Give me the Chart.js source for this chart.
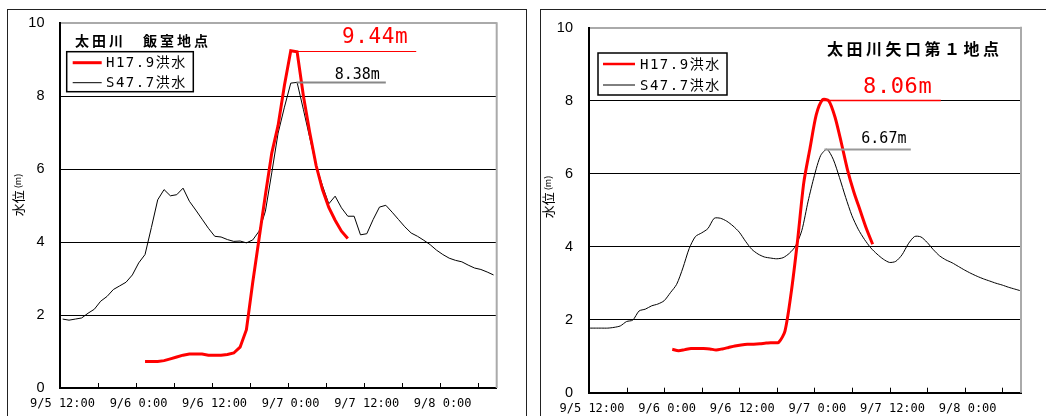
<!DOCTYPE html>
<html>
<head>
<meta charset="utf-8">
<script src="https://cdn.jsdelivr.net/npm/chart.js@4.4.1/dist/chart.umd.min.js"></script>
<style>
  html, body { margin: 0; padding: 0; background: #fff; width: 1046px; height: 416px; overflow: hidden; position: relative; }
  .frame { position: absolute; top: 9px; height: 430px; border: 1.5px solid #222; box-sizing: border-box; }
  #frameL { left: 7px; width: 520px; }
  #frameR { left: 540px; width: 520px; }
  canvas { position: absolute; top: 10px; }
  #chartL { left: 8px; }
  #chartR { left: 541px; }
</style>
</head>
<body>
<div class="frame" id="frameL"></div>
<div class="frame" id="frameR"></div>
<canvas id="chartL" width="515" height="406"></canvas>
<canvas id="chartR" width="505" height="406"></canvas>
<script>
// hours counted from 9/5 12:00
const LABEL_HOURS = [0, 12, 24, 36, 48, 60]
const HOUR_LABELS = ['9/5 12:00', '9/6 0:00', '9/6 12:00', '9/7 0:00', '9/7 12:00', '9/8 0:00']
const TICK_HOURS  = [6, 12, 18, 24, 30, 36, 42, 48, 54, 60, 66]

const SERIES_NAMES = ['H17.9洪水', 'S47.7洪水']

// 太田川 飯室地点 (hourly, water level m)
const IIMURO_H17_START = 13.5
const IIMURO_H17 = [
  0.73, 0.73, 0.73, 0.75, 0.80, 0.85, 0.90, 0.93, 0.93, 0.93, 0.90, 0.90, 0.90, 0.92, 0.96,
  1.12, 1.60, 2.90, 4.10, 5.30, 6.44, 7.20, 8.30, 9.25, 9.22, 8.00, 7.00, 6.10, 5.44, 4.95,
  4.60, 4.30, 4.10,
]
const IIMURO_S47_START = 0.5
const IIMURO_S47 = [
  1.89, 1.86, 1.89, 1.92, 2.05, 2.16, 2.38, 2.51, 2.70, 2.80, 2.90, 3.10, 3.43, 3.66, 4.40,
  5.16, 5.44, 5.27, 5.30, 5.48, 5.12, 4.88, 4.63, 4.38, 4.16, 4.14, 4.07, 4.02, 4.03, 3.98,
  4.06, 4.30, 4.85, 5.90, 6.99, 7.70, 8.36, 8.38, 7.63, 6.86, 6.10, 5.55, 5.05, 5.26, 4.94,
  4.71, 4.71, 4.20, 4.23, 4.62, 4.96, 5.01, 4.82, 4.62, 4.42, 4.25, 4.16, 4.05, 3.93, 3.78,
  3.66, 3.56, 3.50, 3.46, 3.37, 3.29, 3.25, 3.18, 3.10,
]
const IIMURO_PEAK_VALUES = [9.25, 8.39]
const IIMURO_PEAK_TEXT   = ['9.44m', '8.38m']

// 太田川矢口第１地点
const YAGUCHI_H17_START = 13.3
const YAGUCHI_H17 = [
  1.19, 1.15, 1.18, 1.21, 1.21, 1.21, 1.20, 1.17, 1.20, 1.24, 1.28, 1.31, 1.33, 1.33, 1.34,
  1.36, 1.37, 1.38, 1.69, 2.75, 4.15, 5.75, 6.70, 7.62, 8.03, 8.00, 7.55, 6.85, 6.10, 5.50,
  5.00, 4.50, 4.07,
]
const YAGUCHI_S47_START = 0
const YAGUCHI_S47 = [
  1.77, 1.77, 1.77, 1.77, 1.79, 1.83, 1.95, 1.99, 2.24, 2.29, 2.38, 2.43, 2.52, 2.74, 2.97,
  3.42, 3.95, 4.28, 4.38, 4.50, 4.78, 4.78, 4.70, 4.57, 4.40, 4.15, 3.93, 3.80, 3.72, 3.69,
  3.67, 3.70, 3.82, 4.02, 4.45, 5.25, 5.95, 6.50, 6.67, 6.40, 5.90, 5.35, 4.85, 4.48, 4.20,
  3.97, 3.80, 3.66, 3.57, 3.60, 3.78, 4.08, 4.28, 4.27, 4.12, 3.92, 3.75, 3.64, 3.56, 3.46,
  3.36, 3.27, 3.19, 3.12, 3.06, 3.00, 2.95, 2.89, 2.84, 2.79,
]
const YAGUCHI_PEAK_VALUES = [8.03, 6.67]
const YAGUCHI_PEAK_TEXT   = ['8.06m', '6.67m']

const toPoints = (start, values) => values.map((v, i) => ({ x: start + i, y: v }))

const RED = '#ff0000'
const CJK = "'Noto Sans CJK JP', sans-serif"
const MONO = "'DejaVu Sans Mono', monospace"

// frame lines on the right, inward tick marks on the time axis
const frameTicks = {
  id: 'frameTicks',
  afterDraw(chart) {
    const { ctx, chartArea: a, scales: { x } } = chart
    ctx.save()
    ctx.strokeStyle = '#aaa'
    ctx.lineWidth = 2
    ctx.beginPath()
    ctx.moveTo(a.right, a.top - 1)
    ctx.lineTo(a.right, a.bottom)
    ctx.stroke()
    ctx.strokeStyle = '#000'
    ctx.lineWidth = 1
    TICK_HOURS.forEach(h => {
      const px = Math.round(x.getPixelForValue(h)) + 0.5
      ctx.beginPath()
      ctx.moveTo(px, a.bottom)
      ctx.lineTo(px, a.bottom - 5)
      ctx.stroke()
    })
    ctx.restore()
  },
}

// station title, boxed legend, y title, peak markers
const decor = {
  id: 'decor',
  afterDatasetsDraw(chart, args, o) {
    const { ctx, scales: { x, y } } = chart
    ctx.save()

    // peaks
    o.peaks.forEach(p => {
      const py = Math.round(y.getPixelForValue(p.value)) + 0.5
      ctx.strokeStyle = p.lineColor
      ctx.lineWidth = p.lineWidth
      ctx.beginPath()
      ctx.moveTo(x.getPixelForValue(p.from), py)
      ctx.lineTo(x.getPixelForValue(p.to), py)
      ctx.stroke()
      ctx.fillStyle = p.color
      ctx.font = p.font
      ctx.letterSpacing = p.spacing || '0px'
      ctx.textAlign = 'center'
      ctx.textBaseline = 'middle'
      ctx.fillText(p.text, x.getPixelForValue(p.tx), y.getPixelForValue(p.ty))
    })

    // title
    const t = o.title
    ctx.fillStyle = '#000'
    ctx.font = t.font
    ctx.letterSpacing = t.spacing
    ctx.textAlign = 'left'
    ctx.textBaseline = 'middle'
    ctx.fillText(t.text, t.x, t.y)

    // legend
    const L = o.legend
    ctx.letterSpacing = '0px'
    ctx.fillStyle = '#fff'
    ctx.fillRect(L.x, L.y, L.w, L.h)
    ctx.strokeStyle = '#000'
    ctx.lineWidth = 1.5
    ctx.strokeRect(L.x, L.y, L.w, L.h)
    chart.data.datasets.forEach((ds, i) => {
      const ry = L.rows[i]
      ctx.strokeStyle = ds.borderColor
      ctx.lineWidth = L.widths[i]
      ctx.beginPath()
      ctx.moveTo(L.x0, ry)
      ctx.lineTo(L.x1, ry)
      ctx.stroke()
      ctx.fillStyle = '#000'
      ctx.font = `14px 'DejaVu Sans Mono', ${CJK}`
      ctx.letterSpacing = '1.5px'
      ctx.textAlign = 'left'
      ctx.textBaseline = 'middle'
      ctx.fillText(ds.label, L.tx, ry + 1)
    })

    // y title, rotated
    const yt = o.yTitle
    ctx.translate(yt.x, yt.y)
    ctx.rotate(-Math.PI / 2)
    ctx.letterSpacing = '0px'
    ctx.fillStyle = '#000'
    ctx.textBaseline = 'middle'
    ctx.font = `13px ${CJK}`
    const w1 = ctx.measureText('水位').width
    ctx.font = `9px ${CJK}`
    const w2 = ctx.measureText('(m)').width
    const sx = -(w1 + w2 + 2) / 2
    ctx.font = `13px ${CJK}`
    ctx.textAlign = 'left'
    ctx.fillText('水位', sx, 0)
    ctx.font = `9px ${CJK}`
    ctx.fillText('(m)', sx + w1 + 2, 0)
    ctx.restore()
  },
}

function makeChart(id, cfg) {
  new Chart(document.getElementById(id), {
    type: 'line',
    data: {
      datasets: [
        {
          label: SERIES_NAMES[0],
          data: cfg.h17,
          borderColor: RED,
          borderWidth: 3,
          pointRadius: 0,
          tension: cfg.tension,
        },
        {
          label: SERIES_NAMES[1],
          data: cfg.s47,
          borderColor: '#000',
          borderWidth: 1,
          pointRadius: 0,
          tension: cfg.tension,
        },
      ],
    },
    options: {
      responsive: false,
      animation: false,
      events: [],
      layout: { padding: { top: cfg.padTop, right: cfg.padRight, left: 0, bottom: 0 } },
      plugins: {
        legend: { display: false },
        tooltip: { enabled: false },
        decor: cfg.decor,
      },
      scales: {
        x: {
          type: 'linear',
          min: 0,
          max: 69,
          afterFit: s => {
            s.height = cfg.xHeight
            s.paddingLeft = 0
            s.paddingRight = 0
          },
          afterBuildTicks: s => { s.ticks = LABEL_HOURS.map(value => ({ value })) },
          grid: { display: false, drawTicks: false },
          border: { color: '#000', width: 2 },
          ticks: {
            autoSkip: false,
            maxRotation: 0,
            padding: cfg.xPad,
            labelOffset: 3,
            color: '#000',
            font: { family: MONO, size: 12 },
            callback: v => HOUR_LABELS[LABEL_HOURS.indexOf(v)],
          },
        },
        y: {
          min: 0,
          max: 10,
          afterFit: s => {
            s.width = cfg.yWidth
            s.paddingTop = 0
            s.paddingBottom = 0
          },
          grid: {
            drawTicks: false,
            color: c => c.tick.value === 10 ? '#aaa' : (c.tick.value === 0 ? 'rgba(0,0,0,0)' : '#000'),
            lineWidth: c => c.tick.value === 10 ? 2 : 1,
          },
          border: { color: '#000', width: 2 },
          ticks: {
            stepSize: 2,
            padding: cfg.yPad,
            color: '#000',
            font: { family: "'Liberation Sans', Arial, sans-serif", size: 14.5 },
          },
        },
      },
    },
    plugins: [frameTicks, decor],
  })
}

makeChart('chartL', {
  h17: toPoints(IIMURO_H17_START, IIMURO_H17),
  s47: toPoints(IIMURO_S47_START, IIMURO_S47),
  tension: 0,
  padTop: 13.3, padRight: 26.3, xHeight: 28, yWidth: 51.5, xPad: 9, yPad: 15,
  decor: {
    title: { text: '太田川　飯室地点', x: 67, y: 31, font: `bold 14px ${CJK}`, spacing: '3px' },
    legend: { x: 58.7, y: 41.7, w: 126.6, h: 40, x0: 64.7, x1: 93.7, tx: 98, rows: [52.7, 72.7], widths: [3, 1] },
    yTitle: { x: 10, y: 185 },
    peaks: [
      { value: IIMURO_PEAK_VALUES[0], from: 36.6, to: 56.3, text: IIMURO_PEAK_TEXT[0], tx: 49.8, ty: 9.6,
        color: RED, lineColor: RED, lineWidth: 1, font: `21px ${MONO}`, spacing: '0.6px' },
      { value: IIMURO_PEAK_VALUES[1], from: 37.4, to: 51.5, text: IIMURO_PEAK_TEXT[1], tx: 47.0, ty: 8.58,
        color: '#000', lineColor: '#888', lineWidth: 2, font: `15px ${MONO}` },
    ],
  },
})

makeChart('chartR', {
  h17: toPoints(YAGUCHI_H17_START, YAGUCHI_H17),
  s47: toPoints(YAGUCHI_S47_START, YAGUCHI_S47),
  tension: 0.25,
  padTop: 17.8, padRight: 25, xHeight: 23.3, yWidth: 48, xPad: 9, yPad: 16,
  decor: {
    title: { text: '太田川矢口第１地点', x: 286, y: 39, font: `bold 16px ${CJK}`, spacing: '3.5px' },
    legend: { x: 57, y: 43, w: 129, h: 42, x0: 62, x1: 94, tx: 99, rows: [54, 75], widths: [2.5, 1] },
    yTitle: { x: 7, y: 187 },
    peaks: [
      { value: YAGUCHI_PEAK_VALUES[0], from: 37.4, to: 56.2, text: YAGUCHI_PEAK_TEXT[0], tx: 49.3, ty: 8.36,
        color: RED, lineColor: RED, lineWidth: 1.5, font: `22px ${MONO}`, spacing: '0.6px' },
      { value: YAGUCHI_PEAK_VALUES[1], from: 37.6, to: 51.4, text: YAGUCHI_PEAK_TEXT[1], tx: 47.1, ty: 6.96,
        color: '#000', lineColor: '#999', lineWidth: 2, font: `15px ${MONO}` },
    ],
  },
})
</script>
</body>
</html>
